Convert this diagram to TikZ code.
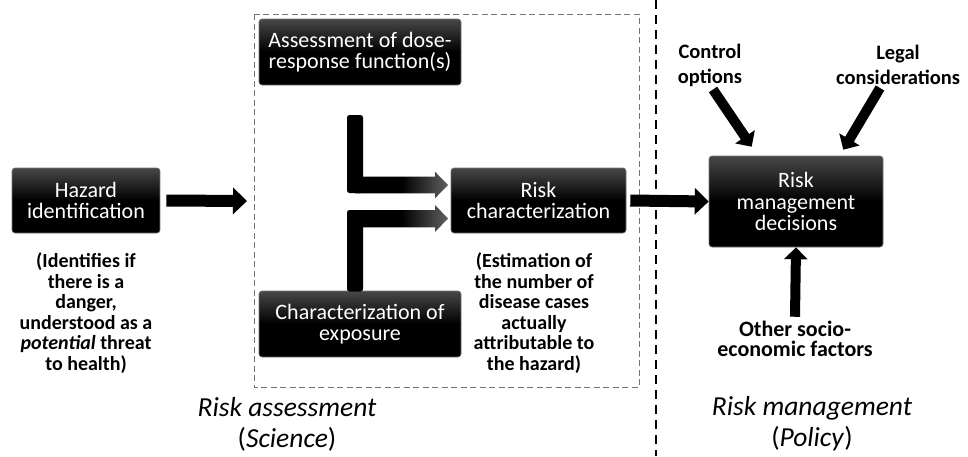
\documentclass[tikz,border=0pt]{standalone}
\usepackage{fontspec}
\setmainfont{Carlito}
\usetikzlibrary{arrows.meta}
\begin{document}
\begin{tikzpicture}[x=1pt,y=-1pt,
  blackbox/.style={draw=black!55, line width=0.6pt, rounded corners=3pt,
    top color=black!72, bottom color=black, middle color=black,
    text=white, align=center, inner sep=0pt,
    font=\fontsize{22}{21.5}\selectfont},
  note/.style={align=center, inner sep=0pt, font=\bfseries\fontsize{20}{20.5}\selectfont},
  factor/.style={align=center, inner sep=0pt, font=\bfseries\fontsize{20.5}{25}\selectfont},
  heading/.style={align=center, inner sep=0pt, font=\fontsize{27.5}{31}\selectfont},
  fatarrow/.style={line width=12pt, -{Triangle[length=14pt,width=26pt]}},
  slimarrow/.style={line width=10pt, -{Triangle[length=12pt,width=23pt]}},
]
\useasboundingbox (0,0) rectangle (968,456);

% frames
\draw[black!55, line width=0.6pt, dash pattern=on 6pt off 3.5pt] (254,14) rectangle (639,387);
\draw[black, line width=1.1pt, dash pattern=on 9pt off 6pt] (656,0) -- (656,456);

% boxes
\node[blackbox, minimum width=148pt, minimum height=65pt] (hazard) at (86,200.5) {Hazard\\identification};
\node[blackbox, minimum width=202pt, minimum height=66pt] (dose) at (360,52) {Assessment of dose-\\response function(s)};
\node[blackbox, minimum width=202pt, minimum height=66pt] (expo) at (360,324) {Characterization of\\exposure};
\node[blackbox, minimum width=175pt, minimum height=65pt] (riskchar) at (538.5,200.5) {Risk\\characterization};
\node[blackbox, minimum width=174pt, minimum height=91pt] (rm) at (796,201.5) {Risk\\management\\decisions};

% notes
\node[note] (hnote) at (86,313) {(Identifies if\\there is a\\danger,\\understood as a\\\textit{potential} threat\\to health)};
\node[note] (rnote) at (534,313) {(Estimation of\\the number of\\disease cases\\actually\\attributable to\\the hazard)};

% factors
\node[factor] (ctrl) at (710,65) {Control\\options};
\node[factor] (legal) at (898,65) {Legal\\considerations};
\node[factor, font=\bfseries\fontsize{22}{20.5}\selectfont] (other) at (795,339) {Other socio-\\economic factors};

% headings
\node[heading] (ra) at (287,424) {\textit{Risk assessment}\\(\textit{Science})};
\node[heading] (rmh) at (812,424) {\textit{Risk management}\\(\textit{Policy})};

% main arrows
\coordinate (raIn) at (247,201);
\draw[fatarrow] ([xshift=6pt]hazard.east) -- (raIn);
\draw[fatarrow] ([xshift=4pt]riskchar.east) -- (rm.west);

% L-shaped arrows into risk characterization
\fill[black, rounded corners=2.5pt] (347,115) rectangle (363,193);
\shade[left color=black, right color=black!62, middle color=black]
  (355,176.7) -- (435,176.7) -- (435,171.7) -- (448,185) -- (435,198.3) -- (435,193.3) -- (355,193.3) -- cycle;
\fill[black, rounded corners=2.5pt] (347,210) rectangle (363,291.5);
\shade[left color=black, right color=black!62, middle color=black]
  (355,210) -- (435,210) -- (435,205) -- (448,218.5) -- (435,232) -- (435,227.3) -- (355,227.3) -- cycle;

% factor arrows
\draw[slimarrow] ([xshift=3pt,yshift=-3pt]ctrl.south) -- ([xshift=43pt,yshift=9pt]rm.north west);
\draw[slimarrow] ([xshift=-18pt,yshift=-3pt]legal.south) -- ([xshift=-40pt,yshift=6pt]rm.north east);
\draw[slimarrow] ([yshift=4pt]other.north) -- (rm.south);
\end{tikzpicture}
\end{document}
